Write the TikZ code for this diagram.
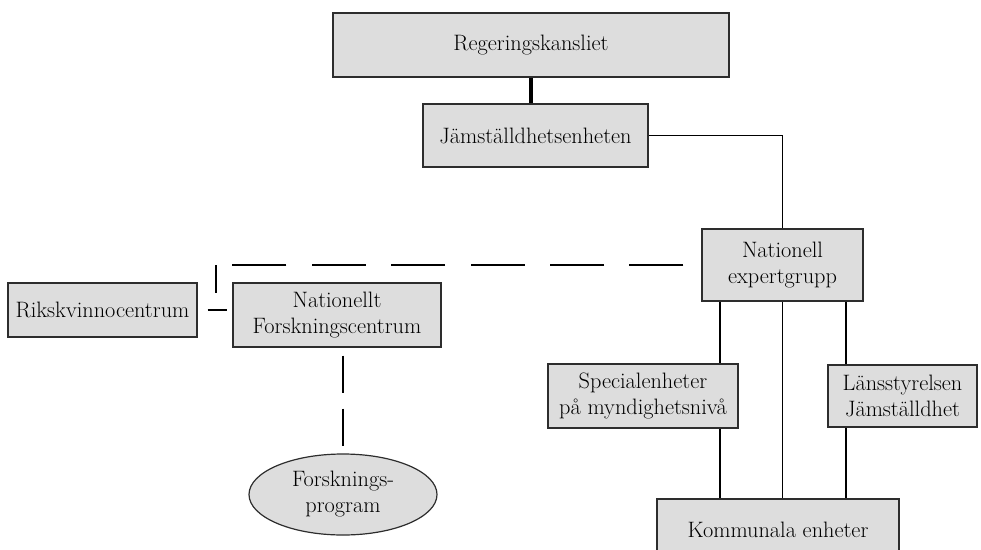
\documentclass[tikz,border=0pt]{standalone}
\usepackage{fontspec}
\usepackage{tikz}
\usetikzlibrary{shapes.geometric}
\definecolor{boxgray}{RGB}{221,221,221}
\definecolor{edgegray}{RGB}{45,45,45}

\begin{document}
\begin{tikzpicture}[
  x=1pt, y=-1pt,
  box/.style={rectangle, draw=edgegray, fill=boxgray, line width=1.2pt, align=center, inner sep=0pt, font=\fontsize{22.3}{26}\selectfont},
  oval/.style={box, ellipse},
  link/.style={draw=black, line width=1.2pt},
  dashlink/.style={link, dash pattern=on 54pt off 25.4pt}
]
\useasboundingbox (0,0) rectangle (981,549);

% Government level
\node[box, minimum width=396pt, minimum height=64pt] (regering) at (531,45) {Regeringskansliet};
\node[box, minimum width=225pt, minimum height=63pt] (jamst) at (535.5,135.5) {Jämställdhetsenheten};

% Expert group and its branches
\node[box, minimum width=161pt, minimum height=72pt] (expert) at (782.5,265) {Nationell\\expertgrupp};
\node[box, minimum width=190pt, minimum height=64pt] (special) at (643,396) {Specialenheter\\på myndighetsnivå};
\node[box, minimum width=149pt, minimum height=62pt] (lans) at (902.5,396) {Länsstyrelsen\\Jämställdhet};
\node[box, minimum width=242pt, minimum height=64pt] (kommun) at (778,531) {\raisebox{3pt}{Kommunala enheter}};

% Research side
\node[box, minimum width=189pt, minimum height=54pt] (riks) at (102.5,310) {Rikskvinnocentrum};
\node[box, minimum width=208pt, minimum height=64pt] (nfc) at (337,315) {Nationellt\\Forskningscentrum};
\node[oval, minimum width=188pt, minimum height=81pt] (prog) at (343,494.5) {Forsknings-\\program};

% Helper points
\coordinate (leftdrop) at (720,0);
\coordinate (rightdrop) at (846,0);
\coordinate (corner) at (216,265);
\coordinate (tee) at (216,311);

% Solid connectors
\draw[link, line width=4pt] (regering.south) -- (regering.south |- jamst.north);
\draw[link] (jamst.east) -| (expert.north);
\draw[link] (expert.south -| leftdrop) -- (special.north -| leftdrop);
\draw[link] (special.south -| leftdrop) -- (kommun.north -| leftdrop);
\draw[link] (expert.south) -- (kommun.north -| expert.south);
\draw[link] (expert.south -| rightdrop) -- (lans.north -| rightdrop);
\draw[link] (lans.south -| rightdrop) -- (kommun.north -| rightdrop);

% Dashed connectors
\draw[dashlink, dash phase=61.4pt] (expert.west) -- (corner);
\draw[link, dash pattern=on 28pt off 20pt] (corner) -- (tee);
\draw[link, dash pattern=on 19pt off 10pt, dash phase=19pt] (riks.east) -- (riks.east -| nfc.west);
\draw[link, dash pattern=on 37pt off 16pt, dash phase=45pt] (nfc.south -| prog.north) -- (prog.north);

\end{tikzpicture}
\end{document}
